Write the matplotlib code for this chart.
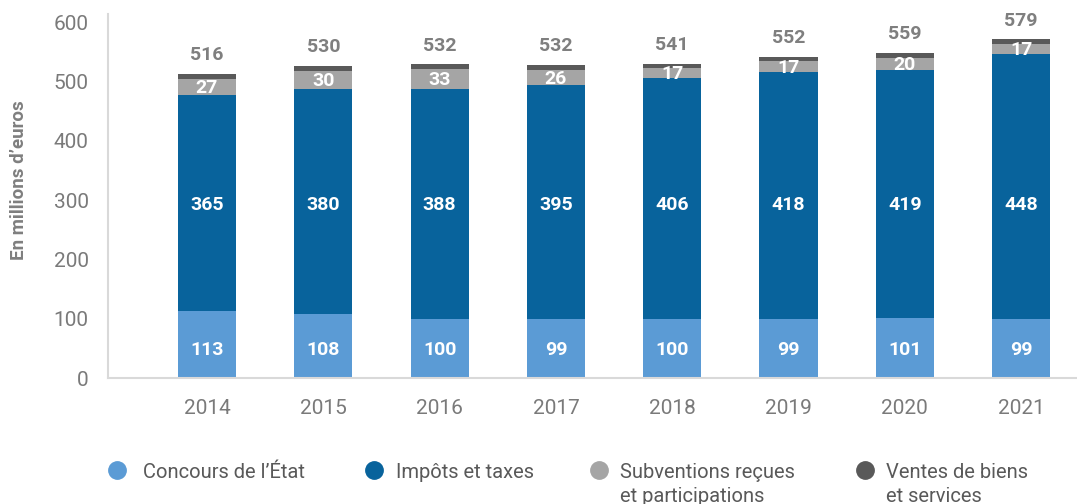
import matplotlib
matplotlib.use("Agg")
import matplotlib.pyplot as plt
from matplotlib.lines import Line2D
import numpy as np

plt.rcParams['font.family'] = ['Roboto', 'DejaVu Sans']

years = ['2014', '2015', '2016', '2017', '2018', '2019', '2020', '2021']
concours = [113, 108, 100, 99, 100, 99, 101, 99]
impots = [365, 380, 388, 395, 406, 418, 419, 448]
subventions = [27, 30, 33, 26, 17, 17, 20, 17]
ventes = [8, 8, 8, 8, 7, 8, 8, 7]
totals = [516, 530, 532, 532, 541, 552, 559, 579]

series_names = ['Concours de l\u2019\u00c9tat', 'Imp\u00f4ts et taxes',
                'Subventions re\u00e7ues\net participations', 'Ventes de biens\net services']
colors = ['#5B9BD5', '#08639C', '#A5A5A5', '#595959']

fig = plt.figure(figsize=(10.77, 5.04), dpi=100)
ax = fig.add_axes([108/1077, 1-378/504, 1-108/1077, (378-14)/504])

x = np.arange(len(years))
w = 0.5
bottom = np.zeros(len(years))
data = [concours, impots, subventions, ventes]
# fixed label heights used in the reference for the two big segments
label_levels = [47, 292, None, None]
for i, (vals, c) in enumerate(zip(data, colors)):
    vals = np.array(vals, dtype=float)
    ax.bar(x, vals, w, bottom=bottom, color=c, linewidth=0)
    if i < 3:
        for xi, b, v in zip(x, bottom, vals):
            yy = label_levels[i] if label_levels[i] is not None else b + v/2 - 2
            ax.text(xi, yy, f'{int(v)}', ha='center', va='center',
                    color='white', fontsize=14, fontweight='bold')
    bottom = bottom + vals

for xi, top, t in zip(x, bottom, totals):
    ax.annotate(f'{t}', (xi, top), xytext=(0, 13.5), textcoords='offset points',
                ha='center', va='center', color='#7F7F7F', fontsize=14, fontweight='bold')

ax.set_xlim(-0.851, 7.48)
ax.set_ylim(0, 614)
ax.set_yticks([0, 100, 200, 300, 400, 500, 600])
ax.set_xticks(x)
ax.set_xticklabels(years)
ax.tick_params(axis='both', length=0, labelsize=15, labelcolor='#7A7A7A')
ax.tick_params(axis='y', pad=14)
ax.tick_params(axis='x', pad=15)
for s in ['top', 'right']:
    ax.spines[s].set_visible(False)
for s in ['left', 'bottom']:
    ax.spines[s].set_color('#D9D9D9')
    ax.spines[s].set_linewidth(1.5)

fig.text(19/1077, 1-180/504, 'En millions d\u2019euros', rotation=90, ha='center', va='center',
         color='#7F7F7F', fontsize=13.5, fontweight='bold')

marker_x = [117, 374, 599, 865]
text_x = [143, 396, 620, 886]
ly = 1 - 470/504
for mx, tx, name, c in zip(marker_x, text_x, series_names, colors):
    fig.add_artist(Line2D([mx/1077], [ly], marker='o', markersize=12.5, color=c,
                          linestyle='none', transform=fig.transFigure))
    fig.text(tx/1077, 1-470/504, name, ha='left', va='center_baseline', color='#595959',
             fontsize=14.5, linespacing=1.3, multialignment='left') if '\n' not in name else None
    if '\n' in name:
        l1, l2 = name.split('\n')
        fig.text(tx/1077, 1-470/504, l1, ha='left', va='center_baseline', color='#595959',
                 fontsize=14.5)
        fig.text(tx/1077, 1-494/504, l2, ha='left', va='center_baseline', color='#595959',
                 fontsize=14.5)

fig.savefig('out.png', dpi=100)
